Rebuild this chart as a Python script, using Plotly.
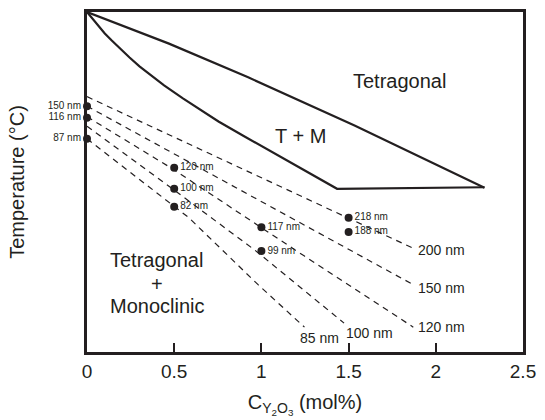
import plotly.graph_objects as go

# ---------------- data ----------------
# phase boundaries (x: mol% Y2O3, y: relative temperature 0-100)
upper_x = [0.0, 0.47, 0.924, 1.321, 1.531, 2.279]
upper_y = [100.0, 90.7, 80.8, 71.5, 66.7, 48.3]
lower_x = [0.0, 0.023, 0.045, 0.074, 0.102, 0.142, 0.187, 0.244, 0.301,
           0.357, 0.442, 0.550, 0.641, 0.754, 0.896, 1.037, 1.224,
           1.434, 2.279]
lower_y = [100.0, 98.5, 97.1, 95.4, 93.7, 91.6, 89.3, 86.6, 84.0,
           81.7, 78.4, 74.6, 71.6, 67.8, 63.6, 59.5, 54.1,
           48.0, 48.45]

# size-dependent transformation lines (dashed)
x_200 = [0.0, 1.871]
y_200 = [75.1, 30.5]
x_150 = [0.0, 1.281, 1.871]
y_150 = [72.3, 36.2, 19.8]
x_120 = [0.0, 0.488, 1.247, 1.871]
y_120 = [69.2, 53.95, 28.2, 7.3]
x_100 = [0.0, 0.482, 0.964, 1.474]
y_100 = [66.4, 48.3, 29.9, 8.5]
x_85 = [0.0, 0.493, 0.584, 0.981, 1.247]
y_85 = [62.7, 43.2, 39.5, 19.8, 7.3]

line_names = ["200 nm", "150 nm", "120 nm", "100 nm", "85 nm"]
line_label_x = [1.888, 1.888, 1.888, 1.474, 1.207]
line_label_y = [29.9, 18.9, 7.3, 5.6, 4.0]

# measured points
dot_x = [0, 0, 0, 0.5, 0.5, 0.5, 1, 1, 1.5, 1.5]
dot_y = [72.3, 68.9, 62.7, 54.2, 48.0, 42.7, 36.7, 29.7, 39.5, 35.3]
dot_labels = ["150 nm", "116 nm", "87 nm", "120 nm", "100 nm", "82 nm",
              "117 nm", "99 nm", "218 nm", "188 nm"]

# region labels
region_text = ["Tetragonal", "T + M", "Tetragonal", "+", "Monoclinic"]
region_x = [1.791, 1.222, 0.400, 0.400, 0.400]
region_y = [79.7, 63.4, 27.0, 20.1, 13.6]

tick_vals = [0, 0.5, 1, 1.5, 2, 2.5]
tick_text = ["0", "0.5", "1", "1.5", "2", "2.5"]

# ---------------- figure ----------------
INK = "#231f20"
FONT = "Liberation Sans, Arial, Helvetica, sans-serif"

fig = go.Figure()

for xs, ys in [(upper_x, upper_y), (lower_x, lower_y)]:
    fig.add_trace(go.Scatter(x=xs, y=ys, mode="lines",
                             line=dict(color=INK, width=2.2),
                             showlegend=False, hoverinfo="skip"))

for xs, ys in [(x_200, y_200), (x_150, y_150), (x_120, y_120),
               (x_100, y_100), (x_85, y_85)]:
    fig.add_trace(go.Scatter(x=xs, y=ys, mode="lines",
                             line=dict(color=INK, width=1.2, dash="6px,5px"),
                             showlegend=False, hoverinfo="skip"))

text_pos = ["middle left" if x == 0 else "middle right" for x in dot_x]
fig.add_trace(go.Scatter(x=dot_x, y=dot_y, mode="markers+text",
                         marker=dict(color=INK, size=8),
                         text=dot_labels, textposition=text_pos,
                         textfont=dict(size=10, color=INK, family=FONT),
                         cliponaxis=False, showlegend=False))

for t, x, y in zip(line_names, line_label_x, line_label_y):
    fig.add_annotation(x=x, y=y, text=t, showarrow=False, xanchor="left",
                       yanchor="middle", font=dict(size=14, color=INK, family=FONT))

for t, x, y in zip(region_text, region_x, region_y):
    fig.add_annotation(x=x, y=y, text=t, showarrow=False, xanchor="center",
                       yanchor="middle", font=dict(size=20, color=INK, family=FONT))

fig.update_layout(
    width=545, height=420,
    margin=dict(l=87, r=17, t=9, b=57),
    paper_bgcolor="white", plot_bgcolor="white",
    font=dict(family=FONT, color=INK),
    showlegend=False,
    xaxis=dict(range=[0, 2.5], tickvals=tick_vals, ticktext=tick_text,
               ticks="inside", ticklen=9, tickwidth=2, tickcolor=INK,
               showline=True, linewidth=2.5, linecolor=INK, mirror=True,
               showgrid=False, zeroline=False,
               tickfont=dict(size=19, color=INK, family=FONT),
               title=dict(text="C<sub>Y<sub>2</sub>O<sub>3</sub></sub> (mol%)",
                          font=dict(size=20, color=INK, family=FONT), standoff=15)),
    yaxis=dict(range=[0, 100], showticklabels=False, ticks="",
               showline=True, linewidth=2.5, linecolor=INK, mirror=True,
               showgrid=False, zeroline=False,
               title=dict(text="Temperature (°C)",
                          font=dict(size=20, color=INK, family=FONT), standoff=55)),
)

fig.write_html("out.html")
